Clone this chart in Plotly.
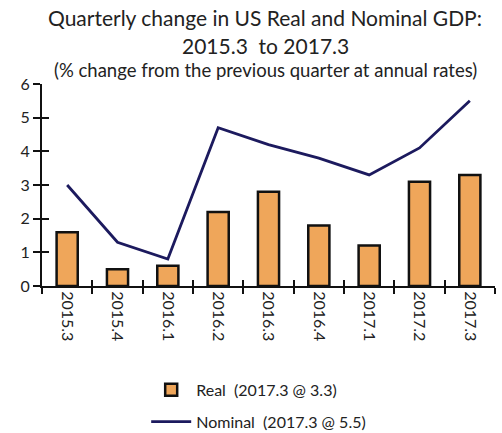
import plotly.graph_objects as go

quarters = ["2015.3", "2015.4", "2016.1", "2016.2", "2016.3", "2016.4", "2017.1", "2017.2", "2017.3"]
real_gdp = [1.6, 0.5, 0.6, 2.2, 2.8, 1.8, 1.2, 3.1, 3.3]
nominal_gdp = [3.0, 1.3, 0.8, 4.7, 4.2, 3.8, 3.3, 4.1, 5.5]
y_ticks = [0, 1, 2, 3, 4, 5, 6]

FONT = "Lato"
BAR_FILL = "#efa65a"
LINE_COLOR = "#1c1a5e"

fig = go.Figure()

fig.add_trace(go.Bar(
    x=quarters, y=real_gdp,
    name="Real  (2017.3 @ 3.3)", legendgroup="real",
    width=0.42,
    marker=dict(color=BAR_FILL, line=dict(color="#111111", width=2.5)),
))
fig.add_trace(go.Scatter(
    x=quarters, y=nominal_gdp,
    name="Nominal  (2017.3 @ 5.5)", legendgroup="nominal",
    mode="lines",
    line=dict(color=LINE_COLOR, width=2.8),
))
# hidden companion trace so the overlay axes can draw the inner half of each tick
fig.add_trace(go.Scatter(
    x=quarters, y=real_gdp, xaxis="x2", yaxis="y2",
    mode="markers", marker=dict(opacity=0), showlegend=False, hoverinfo="skip",
))

axis_font = dict(family=FONT, size=16, color="#222222")

fig.update_layout(
    width=502, height=433,
    margin=dict(l=42, r=7, t=84, b=147, autoexpand=False),
    paper_bgcolor="white", plot_bgcolor="white",
    showlegend=True,
    legend=dict(
        x=0.23, y=-0.43, xanchor="left", yanchor="top",
        orientation="v", traceorder="grouped",
        font=dict(family=FONT, size=16, color="#222222"),
        tracegroupgap=8, itemwidth=40,
    ),
    xaxis=dict(
        type="category", categoryarray=quarters, range=[-0.5, 8.5],
        showline=True, linecolor="#111111", linewidth=2,
        ticks="outside", ticklen=6, tickwidth=2, tickcolor="#111111",
        tickson="boundaries", tickangle=90, tickfont=axis_font,
        showgrid=False, zeroline=False, automargin=False,
    ),
    yaxis=dict(
        range=[0, 6], tickvals=y_ticks,
        showline=True, linecolor="#111111", linewidth=2,
        ticks="outside", ticklen=7, tickwidth=2, tickcolor="#111111",
        tickfont=axis_font, showgrid=False, zeroline=False, automargin=False,
    ),
    xaxis2=dict(
        type="category", categoryarray=quarters, range=[-0.5, 8.5],
        overlaying="x", anchor="y2", side="bottom",
        ticks="inside", ticklen=6, tickwidth=2, tickcolor="#111111",
        tickson="boundaries", showticklabels=False, showline=False,
        showgrid=False, zeroline=False,
    ),
    yaxis2=dict(
        range=[0, 6], tickvals=y_ticks,
        overlaying="y", anchor="x2", side="left",
        ticks="inside", ticklen=7, tickwidth=2, tickcolor="#111111",
        showticklabels=False, showline=False, showgrid=False, zeroline=False,
    ),
    bargap=0.58,
)

title_lines = [
    ("Quarterly change in US Real and Nominal GDP:", 21, 18),
    ("2015.3  to 2017.3", 21, 45),
    ("(% change from the previous quarter at annual rates)", 18.5, 70),
]
for text, size, ypx in title_lines:
    fig.add_annotation(
        text=text, xref="paper", yref="paper",
        x=(265 - 42) / 453, y=(286 - ypx) / 202,
        xanchor="center", yanchor="middle", showarrow=False,
        font=dict(family=FONT, size=size, color="#222222"),
    )

fig.write_html("out.html")
